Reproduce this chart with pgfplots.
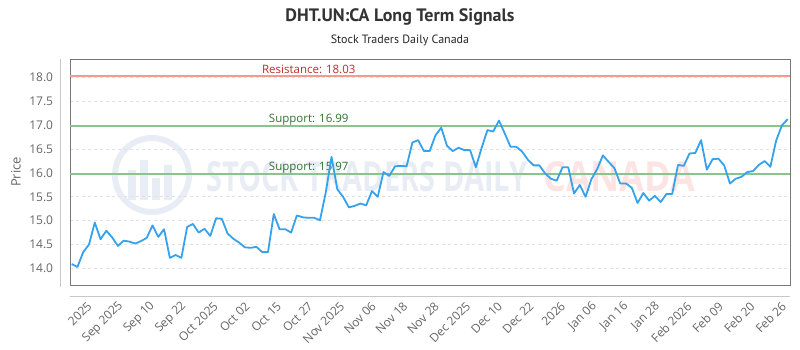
\documentclass[border=0pt]{standalone}
\usepackage{fontspec}
\setmainfont{Open Sans}
\newfontfamily\titlefont{PT Sans}
\usepackage{graphicx}
\usepackage{pgfplots}
\pgfplotsset{compat=1.18}
\definecolor{lineblue}{RGB}{54,162,235}
\definecolor{resline}{RGB}{243,155,145}
\definecolor{restext}{RGB}{185,45,40}
\definecolor{supline}{RGB}{140,195,140}
\definecolor{suptext}{RGB}{45,115,45}
\definecolor{tickgray}{RGB}{102,102,102}
\definecolor{framegray}{RGB}{120,120,120}
\definecolor{axgray}{RGB}{200,200,200}
\definecolor{gridgray}{RGB}{225,225,225}
\definecolor{wmblue}{RGB}{232,236,244}
\definecolor{wmred}{RGB}{252,228,228}
\definecolor{titlegray}{RGB}{51,51,51}
\begin{document}
\begin{tikzpicture}[x=1pt,y=1pt]
\path[use as bounding box] (0,0) rectangle (800,350);
\coordinate (AX) at (70.3,64);
% watermark
\draw[wmblue, line width=6pt] (152,175) circle (37);
\fill[wmblue] (128,150) rectangle (136,180);
\fill[wmblue] (140,150) rectangle (148,190);
\fill[wmblue] (152,150) rectangle (160,172);
\fill[wmblue] (164,150) rectangle (172,185);
\node[anchor=south west, inner sep=0pt, text=wmblue] at (206,158) {\resizebox{321pt}{30pt}{\bfseries STOCK TRADERS DAILY}};
\node[anchor=south west, inner sep=0pt, text=wmred] at (543,158) {\resizebox{152pt}{30pt}{\bfseries CANADA}};
% titles
\node[text=titlegray, font=\titlefont\bfseries\fontsize{18}{20}\selectfont] at (400,333) {DHT.UN:CA Long Term Signals};
\node[text=black!85, font=\titlefont\fontsize{12}{14}\selectfont] at (400,310) {Stock Traders Daily Canada};
\node[rotate=90, text=tickgray, font=\fontsize{13}{15}\selectfont] at (16,178) {Price};
% outer axis lines
\draw[axgray, line width=1pt] (60.5,63) -- (60.5,291);
\draw[axgray, line width=1pt] (70,53.5) -- (790,53.5);
\begin{axis}[
  at={(AX)}, anchor=south west, scale only axis,
  width=719.7pt, height=226.7pt,
  xmin=-0.24, xmax=124.4, ymin=13.629, ymax=18.386,
  axis line style={draw=framegray, line width=1pt},
  major tick length=0pt,
  ytick={14,14.5,15,15.5,16,16.5,17,17.5,18},
  yticklabel style={anchor=east, inner sep=0pt, xshift=-17pt, text=tickgray, font=\fontsize{12}{14}\selectfont,
    /pgf/number format/.cd, fixed, fixed zerofill, precision=1, assume math mode=true},
  ymajorgrids,
  grid style={gridgray, line width=0.8pt, dash pattern=on 3pt off 3pt},
  xtick={3.12,8.59,14.05,19.52,24.98,30.45,35.92,41.38,46.85,52.31,57.78,63.25,68.71,74.18,79.64,85.11,90.58,96.04,101.51,106.97,112.44,117.91,123.37},
  xticklabels={2025,Sep 2025,Sep 10,Sep 22,Oct 2025,Oct 02,Oct 15,Oct 27,Nov 2025,Nov 06,Nov 18,Nov 28,Dec 2025,Dec 10,Dec 22,2026,Jan 06,Jan 16,Jan 28,Feb 2026,Feb 09,Feb 20,Feb 26},
  xticklabel style={yshift=-18pt, rotate=45, anchor=east, inner sep=0pt, text=tickgray, font=\fontsize{12}{14}\selectfont},
  clip=false,
]
\addplot[resline, line width=2pt] coordinates {(-0.24,18.03) (124.4,18.03)};
\addplot[supline, line width=2pt] coordinates {(-0.24,16.99) (124.4,16.99)};
\addplot[supline, line width=2pt] coordinates {(-0.24,15.97) (124.4,15.97)};
\node[anchor=base, text=restext, font=\fontsize{11.5}{13}\selectfont, yshift=3pt] at (axis cs:41.06,18.03) {Resistance: 18.03};
\node[anchor=base, text=suptext, font=\fontsize{11.5}{13}\selectfont, yshift=3.5pt] at (axis cs:41.06,16.99) {Support: 16.99};
\node[anchor=base, text=suptext, font=\fontsize{11.5}{13}\selectfont, yshift=3.5pt] at (axis cs:41.06,15.97) {Support: 15.97};
\addplot[lineblue, line width=1.8pt, line join=round] coordinates {
(0,14.09) (1,14.03) (2,14.34) (3,14.50) (4,14.96) (5,14.61) (6,14.79) (7,14.65) (8,14.47) (9,14.58)
(10,14.56) (11,14.52) (12,14.57) (13,14.64) (14,14.90) (15,14.66) (16,14.82) (17,14.22) (18,14.28) (19,14.22)
(20,14.87) (21,14.93) (22,14.75) (23,14.83) (24,14.68) (25,15.05) (26,15.04) (27,14.73) (28,14.62) (29,14.54)
(30,14.44) (31,14.43) (32,14.45) (33,14.34) (34,14.34) (35,15.14) (36,14.82) (37,14.82) (38,14.75) (39,15.11)
(40,15.07) (41,15.06) (42,15.06) (43,15.01) (44,15.59) (45,16.34) (46,15.66) (47,15.50) (48,15.28) (49,15.31)
(50,15.36) (51,15.32) (52,15.62) (53,15.50) (54,16.02) (55,15.94) (56,16.14) (57,16.15) (58,16.14) (59,16.64)
(60,16.69) (61,16.46) (62,16.46) (63,16.79) (64,16.95) (65,16.57) (66,16.46) (67,16.53) (68,16.48) (69,16.48)
(70,16.12) (71,16.53) (72,16.90) (73,16.87) (74,17.10) (75,16.83) (76,16.55) (77,16.55) (78,16.45) (79,16.28)
(80,16.16) (81,16.16) (82,15.99) (83,15.88) (84,15.84) (85,16.12) (86,16.12) (87,15.57) (88,15.75) (89,15.50)
(90,15.87) (91,16.08) (92,16.37) (93,16.23) (94,16.10) (95,15.78) (96,15.78) (97,15.69) (98,15.37) (99,15.58)
(100,15.42) (101,15.52) (102,15.39) (103,15.56) (104,15.56) (105,16.17) (106,16.15) (107,16.41) (108,16.42) (109,16.69)
(110,16.07) (111,16.29) (112,16.30) (113,16.16) (114,15.78) (115,15.88) (116,15.92) (117,16.02) (118,16.04) (119,16.17)
(120,16.25) (121,16.13) (122,16.68) (123,17.00) (124,17.13)
};
\end{axis}
\end{tikzpicture}
\end{document}
